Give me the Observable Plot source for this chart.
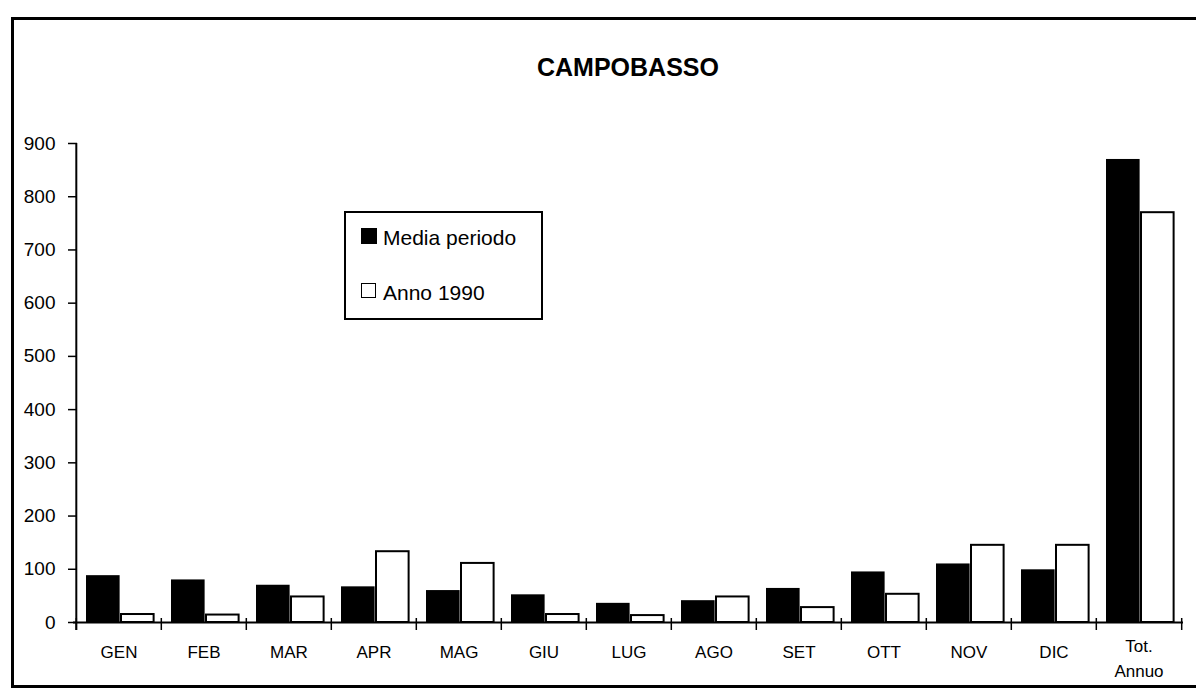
<!DOCTYPE html>
<html>
<head>
<meta charset="utf-8">
<script src="https://cdn.jsdelivr.net/npm/d3@7"></script>
<script src="https://cdn.jsdelivr.net/npm/@observablehq/plot@0.6"></script>
<style>
  html, body { margin: 0; padding: 0; background: #fff; }
  body { font-family: "Liberation Sans", Arial, sans-serif; color: #000; }
  #wrap { position: relative; width: 1196px; height: 691px; overflow: hidden; background: #fff; }
  #chart { position: absolute; left: 0; top: 0; }
  #frame { position: absolute; left: 11px; top: 17px; width: 1200px; height: 671px; border: 3px solid #000; border-right: none; box-sizing: border-box; pointer-events: none; }
  #title { position: absolute; left: 428px; width: 400px; top: 53px; text-align: center; font-size: 25px; line-height: 28px; font-weight: bold; }
  #legend { position: absolute; left: 344px; top: 211px; width: 199px; height: 109px; border: 2px solid #000; box-sizing: border-box; background: #fff; }
  .sw { position: absolute; box-sizing: border-box; }
  .lt { position: absolute; font-size: 21px; line-height: 20px; white-space: nowrap; }
</style>
</head>
<body>
<div id="wrap">
  <div id="chart"></div>
  <div id="frame"></div>
  <div id="title"></div>
  <div id="legend"></div>
</div>
<script>
// ---- data ----
const titleText = "CAMPOBASSO";
const months = ["GEN", "FEB", "MAR", "APR", "MAG", "GIU", "LUG", "AGO", "SET", "OTT", "NOV", "DIC", "Tot. Annuo"];
const mediaPeriodo = [88, 80, 70, 67, 60, 52, 36, 41, 64, 95, 110, 99, 870];
const anno1990 = [15, 14, 48, 133, 111, 15, 13, 48, 28, 53, 145, 145, 770];
const yTicks = [0, 100, 200, 300, 400, 500, 600, 700, 800, 900];
const seriesNames = ["Media periodo", "Anno 1990"];
const tickLabels = {"Tot. Annuo": "Tot.\nAnnuo"};

// ---- layout ----
const W = 1196, H = 691, mL = 73, mR = 13, mT = 143, mB = 69;
const step = (W - mL - mR) / months.length;
const barW = 34, lead = 10;

const rows = months.map((m, i) => ({month: m, media: mediaPeriodo[i], anno: anno1990[i]}));

const chart = Plot.plot({
  width: W, height: H,
  marginLeft: mL, marginRight: mR, marginTop: mT, marginBottom: mB,
  style: {fontFamily: "'Liberation Sans', Arial, sans-serif", color: "#000", background: "transparent", overflow: "visible"},
  x: {type: "band", domain: months, padding: 0, label: null},
  y: {domain: [0, 900], label: null},
  marks: [
    Plot.barY(rows, {x: "month", y: "media", fill: "#000",
      insetLeft: lead, insetRight: step - lead - barW}),
    Plot.barY(rows, {x: "month", y: "anno", fill: "#fff", stroke: "#000", strokeWidth: 2,
      insetLeft: lead + barW + 1, insetRight: step - lead - 2 * barW}),
    Plot.ruleY([0], {stroke: "#000", strokeWidth: 2}),
    Plot.ruleX([months[0]], {x: d => d, dx: -step / 2, y1: 900, y2: 0, insetBottom: -8, stroke: "#000", strokeWidth: 2}),
    Plot.ruleX(months, {x: d => d, dx: -step / 2, y1: 0, y2: 0, insetTop: -4, insetBottom: -8, stroke: "#000", strokeWidth: 1.5}),
    Plot.ruleX([months[months.length - 1]], {x: d => d, dx: step / 2, y1: 0, y2: 0, insetTop: -4, insetBottom: -8, stroke: "#000", strokeWidth: 1.5}),
    Plot.axisY({ticks: yTicks, tickSize: 5, tickPadding: 13, fontSize: 19, strokeWidth: 1.5, label: null}),
    Plot.axisY({ticks: yTicks, tickSize: 4, dx: 4, tickFormat: () => "", strokeWidth: 1.5, label: null}),
    Plot.axisX({ticks: months.slice(0, 12), tickSize: 0, tickPadding: 23, fontSize: 17, label: null}),
    Plot.axisX({ticks: months.slice(12), tickSize: 0, tickPadding: 12, fontSize: 17, lineHeight: 1.45, label: null,
      tickFormat: d => tickLabels[d] ?? d})
  ]
});
document.getElementById("chart").appendChild(chart);

// ---- title ----
document.getElementById("title").textContent = titleText;

// ---- legend ----
const legend = document.getElementById("legend");
const swatches = [
  {name: seriesNames[0], fill: "#000", border: "2px solid #000", top: 15, size: 16},
  {name: seriesNames[1], fill: "#fff", border: "1.5px solid #000", top: 70, size: 15}
];
swatches.forEach(s => {
  const sw = document.createElement("div");
  sw.className = "sw";
  sw.style.left = "15px";
  sw.style.top = s.top + "px";
  sw.style.width = s.size + "px";
  sw.style.height = s.size + "px";
  sw.style.background = s.fill;
  sw.style.border = s.border;
  legend.appendChild(sw);
  const t = document.createElement("div");
  t.className = "lt";
  t.style.left = "37px";
  t.style.top = (s.top) + "px";
  t.textContent = s.name;
  legend.appendChild(t);
});
</script>
</body>
</html>
